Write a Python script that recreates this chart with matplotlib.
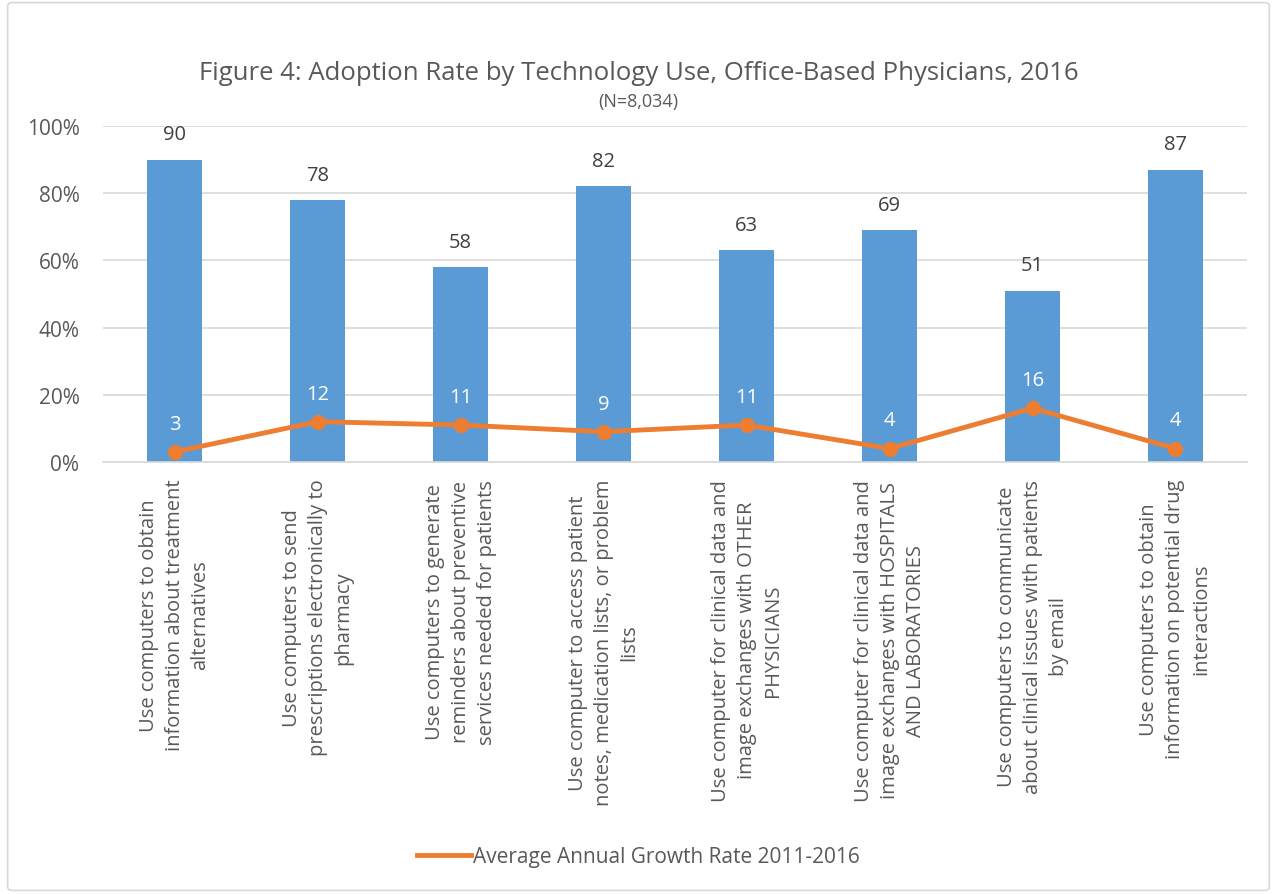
import matplotlib.pyplot as plt
import numpy as np
from matplotlib.lines import Line2D
from matplotlib.patches import FancyBboxPatch
from matplotlib.ticker import FuncFormatter

categories = [
    "Use computers to obtain\ninformation about treatment\nalternatives",
    "Use computers to send\nprescriptions electronically to\npharmacy",
    "Use computers to generate\nreminders about preventive\nservices needed for patients",
    "Use computer to access patient\nnotes, medication lists, or problem\nlists",
    "Use computer for clinical data and\nimage exchanges with OTHER\nPHYSICIANS",
    "Use computer for clinical data and\nimage exchanges with HOSPITALS\nAND LABORATORIES",
    "Use computers to communicate\nabout clinical issues with patients\nby email",
    "Use computers to obtain\ninformation on potential drug\ninteractions",
]
adoption = [90, 78, 58, 82, 63, 69, 51, 87]
growth = [3, 12, 11, 9, 11, 4, 16, 4]
y_ticks = [0, 20, 40, 60, 80, 100]

BLUE = "#5B9BD5"
ORANGE = "#ED7D31"
GREY = "#595959"

plt.rcParams["font.family"] = ["Open Sans", "DejaVu Sans"]

fig = plt.figure(figsize=(12.77, 8.95), dpi=100)
ax = fig.add_axes([0.0807, 0.4827, 0.8958, 0.3754])

x = np.arange(len(categories))
ax.bar(x, adoption, width=0.38, color=BLUE, zorder=2)
ax.plot(x, growth, color=ORANGE, lw=3.5, marker="o", ms=10, zorder=3)

# data labels
for xi, v in zip(x, adoption):
    ax.annotate(str(v), (xi, v), xytext=(0, 11), textcoords="offset points",
                ha="center", va="bottom", fontsize=14.5, color="#404040")
for xi, v in zip(x, growth):
    ax.annotate(str(v), (xi, v), xytext=(0, 13), textcoords="offset points",
                ha="center", va="bottom", fontsize=14.5, color="white")

ax.set_xlim(-0.5, len(categories) - 0.5)
ax.set_ylim(0, 100)
ax.set_yticks(y_ticks)
ax.yaxis.set_major_formatter(FuncFormatter(lambda v, p: f"{v:.0f}%"))
ax.grid(axis="y", color="#D9D9D9", lw=1.2, zorder=0)
ax.set_axisbelow(True)
for s in ["top", "right", "left"]:
    ax.spines[s].set_visible(False)
ax.spines["bottom"].set_color("#D9D9D9")
ax.spines["bottom"].set_linewidth(1.2)
ax.tick_params(axis="both", length=0, colors=GREY, labelsize=15)
ax.tick_params(axis="y", pad=17)
ax.tick_params(axis="x", pad=12)

ax.set_xticks(x)
ax.set_xticklabels(categories, rotation=90, ha="center", va="top",
                   multialignment="center", fontsize=14.5, color=GREY,
                   linespacing=1.4)

fig.text(0.5, 0.918, "Figure 4: Adoption Rate by Technology Use, Office-Based Physicians, 2016",
         ha="center", va="center", fontsize=18.5, color=GREY)
fig.text(0.5, 0.886, "(N=8,034)", ha="center", va="center", fontsize=13, color=GREY)

handle = Line2D([], [], color=ORANGE, lw=3.5)
fig.legend(handles=[handle], labels=["Average Annual Growth Rate 2011-2016"],
           loc="center", bbox_to_anchor=(0.5, 0.042), frameon=False,
           fontsize=15, labelcolor=GREY, handlelength=2.6, handletextpad=0.1)

border = FancyBboxPatch((0.006, 0.004), 0.988, 0.992, boxstyle="round,pad=0,rounding_size=0.004",
                        transform=fig.transFigure, fill=False, edgecolor="#D9D9D9", lw=1.2)
fig.patches.append(border)

fig.savefig("out.png", dpi=100)
